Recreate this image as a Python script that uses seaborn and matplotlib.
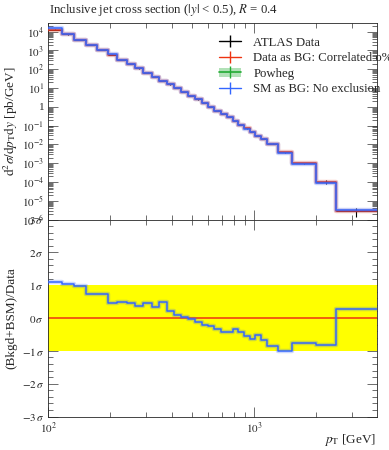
"""
Inclusive jet cross section, |y| < 0.5, R = 0.4 -- data vs SM background
with (Bkgd+BSM)/Data significance panel underneath
"""

import numpy as np
import matplotlib
matplotlib.use("Agg")
import matplotlib.pyplot as plt
from matplotlib.lines import Line2D
from matplotlib.patches import Patch
from matplotlib.ticker import FixedLocator, NullFormatter, LogLocator, MultipleLocator
import seaborn as sns

# bin edges in pT [GeV]
pt_edges = [100, 116, 134, 152, 172, 194, 216, 240, 264, 290, 318, 346, 376,
            408, 442, 478, 516, 556, 598, 642, 688, 736, 786, 838, 894, 952,
            1012, 1076, 1162, 1310, 1530, 1992, 2500, 3937]

# ATLAS data (also "Data as BG") [pb/GeV]
data_xs = [1.3e4, 7.1e3, 3.5e3, 1.9e3, 1.07e3, 6.0e2, 3.2e2, 1.9e2, 1.12e2,
           66, 41, 24.5, 15.8, 9.8, 6.0, 3.8, 2.5, 1.55, 1.02, 0.63, 0.42,
           0.28, 0.178, 0.11, 0.072, 0.045, 0.028, 0.020, 0.011, 3.8e-3,
           1.0e-3, 1.0e-4, 2.8e-6]
data_relerr = [0.03] * 29 + [0.05, 0.08, 0.2, 0.5]

# SM as BG
sm_xs = [1.5e4, 7.6e3, 3.6e3, 1.95e3, 1.1e3, 6.1e2, 3.3e2, 1.9e2, 1.13e2,
         67, 41, 25, 16, 9.8, 6.0, 3.8, 2.5, 1.53, 1.0, 0.62, 0.41, 0.275,
         0.176, 0.108, 0.070, 0.044, 0.0275, 0.0195, 0.0105, 3.5e-3,
         8.9e-4, 8.7e-5, 3.3e-6]

# significance (Bkgd+BSM)/Data in sigma
signif = [1.10, 1.05, 0.98, 0.73, 0.73, 0.45, 0.49, 0.47, 0.36, 0.45, 0.33,
          0.48, 0.21, 0.08, 0.02, -0.03, -0.13, -0.21, -0.23, -0.33, -0.42,
          -0.42, -0.32, -0.44, -0.56, -0.64, -0.51, -0.66, -0.84, -0.99,
          -0.75, -0.83, 0.28]

legend_labels = ["ATLAS Data", "Data as BG: Correlated o%", "Powheg",
                 "SM as BG: No exclusion"]

RED = "#ee3311"
BLUE = "#3366ff"
GREEN = "#22aa33"

sns.set_style("ticks")
plt.rcParams["font.family"] = ["Liberation Serif", "DejaVu Serif"]
plt.rcParams["mathtext.fontset"] = "stix"
plt.rcParams["axes.linewidth"] = 0.6


def steps(vals):
    return pt_edges, list(vals) + [vals[-1]]


def hist(ax, vals, color, z):
    x, y = steps(vals)
    sns.lineplot(x=x, y=y, drawstyle="steps-post", color=color, lw=3.2,
                 alpha=0.25, ax=ax, estimator=None, sort=False, zorder=z)
    sns.lineplot(x=x, y=y, drawstyle="steps-post", color=color, lw=1.1,
                 ax=ax, estimator=None, sort=False, zorder=z + 0.1)


def style_ticks(ax):
    ax.tick_params(which="both", direction="in", top=True, right=True,
                   width=0.5, color="#333333", labelsize=8, pad=3)
    ax.tick_params(which="major", length=7)
    ax.tick_params(which="minor", length=3.5)


fig = plt.figure(figsize=(3.89, 4.5), dpi=100)
ax1 = fig.add_axes([0.1242, 0.5122, 0.8437, 0.4367])
ax2 = fig.add_axes([0.1242, 0.0744, 0.8437, 0.4378])

edges = np.array(pt_edges)
centres = np.sqrt(edges[:-1] * edges[1:])
xlo = centres - edges[:-1]
xhi = edges[1:] - centres

# ---- upper panel
ax1.set_xscale("log")
ax1.set_yscale("log")
ax1.errorbar(centres, data_xs, yerr=np.array(data_xs) * np.array(data_relerr),
             xerr=[xlo, xhi], fmt="none", ecolor="black", elinewidth=0.8,
             zorder=2)
hist(ax1, data_xs, RED, 3)
hist(ax1, sm_xs, BLUE, 4)
ax1.set_xlim(100, 3937)
ax1.set_ylim(1e-6, 2.9e4)

decades = list(range(-6, 5))
ax1.yaxis.set_major_locator(FixedLocator([10.0 ** d for d in decades]))
ax1.yaxis.set_minor_locator(LogLocator(base=10, subs=np.arange(2, 10), numticks=20))
ax1.yaxis.set_minor_formatter(NullFormatter())
ax1.set_yticklabels(["1" if d == 0 else f"$10^{{{d}}}$" for d in decades])
ax1.xaxis.set_major_locator(FixedLocator([100, 1000]))
ax1.xaxis.set_minor_locator(LogLocator(base=10, subs=np.arange(2, 10), numticks=20))
ax1.xaxis.set_major_formatter(NullFormatter())
ax1.xaxis.set_minor_formatter(NullFormatter())
style_ticks(ax1)
ax1.set_ylabel(r"$\mathrm{d}^2\sigma/\mathrm{d}p_\mathrm{T}\mathrm{d}y$ [pb/GeV]",
               fontsize=9.5, labelpad=1)

handles = [
    Line2D([], [], color="black", marker="|", markersize=9, lw=1),
    Line2D([], [], color=RED, marker="|", markersize=9, lw=1),
    (Patch(facecolor=GREEN, alpha=0.35, lw=0),
     Line2D([], [], color=GREEN, marker="|", markersize=9, lw=1.2)),
    Line2D([], [], color=BLUE, marker="|", markersize=9, lw=1),
]
ax1.legend(handles, legend_labels, loc="upper left", bbox_to_anchor=(0.52, 0.93),
           frameon=False, fontsize=9.2, handlelength=1.7, handletextpad=1.0,
           labelspacing=0.28, borderpad=0, borderaxespad=0)

fig.text(0.1265, 0.977, r"Inclusive jet cross section ($|y|$ < 0.5), $R$ = 0.4",
         fontsize=9.2, va="center", ha="left")

# ---- lower panel
ax2.set_xscale("log")
ax2.axhspan(-1, 1, color="#ffff00", lw=0, zorder=1)
ax2.axhline(0, color=RED, lw=1.1, zorder=2)
hist(ax2, signif, BLUE, 3)
ax2.set_xlim(100, 3937)
ax2.set_ylim(-3, 3)
ax2.yaxis.set_major_locator(FixedLocator([-3, -2, -1, 0, 1, 2, 3]))
ax2.yaxis.set_minor_locator(MultipleLocator(0.2))
ax2.set_yticklabels([f"${v}\\,\\sigma$" for v in [-3, -2, -1, 0, 1, 2, 3]])
ax2.xaxis.set_major_locator(FixedLocator([100, 1000]))
ax2.xaxis.set_minor_locator(LogLocator(base=10, subs=np.arange(2, 10), numticks=20))
ax2.xaxis.set_minor_formatter(NullFormatter())
ax2.set_xticklabels(["$10^{2}$", "$10^{3}$"])
style_ticks(ax2)
ax2.set_ylabel("(Bkgd+BSM)/Data", fontsize=9.5, labelpad=3)
fig.text(376.5 / 389, 1 - 440 / 450, r"$p_\mathrm{T}$ [GeV]", fontsize=9.5,
         ha="right", va="center")

fig.savefig("out.png", dpi=100)
plt.close(fig)
